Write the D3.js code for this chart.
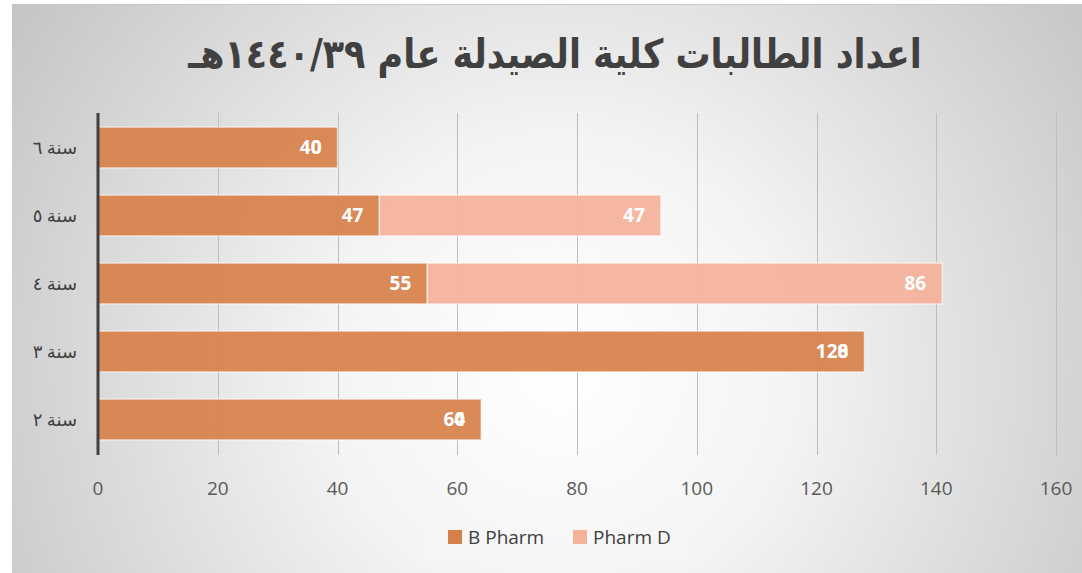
<!DOCTYPE html>
<html>
<head>
<meta charset="utf-8">
<script src="https://cdn.jsdelivr.net/npm/d3@7"></script>
<style>
  body { margin: 0; background: #fff; }
  svg { display: block; }
</style>
</head>
<body>
<div id="chart"></div>
<script>
// chart data
var titleText = "اعداد الطالبات كلية الصيدلة عام ١٤٤٠/٣٩هـ";
var categories = ["سنة ٦", "سنة ٥", "سنة ٤", "سنة ٣", "سنة ٢"];
var seriesNames = ["B Pharm", "Pharm D"];
var bPharm = [40, 47, 55, 128, 64];
var pharmD = [0, 47, 86, 0, 0];
var xTicks = [0, 20, 40, 60, 80, 100, 120, 140, 160];

var colors = ["#d6814a", "#f4b29b"];

var width = 1082, height = 573;

var svg = d3.select("#chart").append("svg")
  .attr("width", width)
  .attr("height", height);

// background
var defs = svg.append("defs");
var grad = defs.append("radialGradient")
  .attr("id", "bg")
  .attr("gradientUnits", "userSpaceOnUse")
  .attr("cx", 560).attr("cy", 370).attr("r", 660);
grad.append("stop").attr("offset", "0%").attr("stop-color", "#ffffff");
grad.append("stop").attr("offset", "35%").attr("stop-color", "#f4f4f4");
grad.append("stop").attr("offset", "100%").attr("stop-color", "#c4c4c4");

svg.append("rect")
  .attr("x", 12).attr("y", 4)
  .attr("width", width - 12).attr("height", height - 4)
  .attr("fill", "url(#bg)");
svg.append("line")
  .attr("x1", 12).attr("x2", width)
  .attr("y1", 4.5).attr("y2", 4.5)
  .attr("stroke", "#c8c8c8");

// title
svg.append("text")
  .attr("transform", "translate(555,68) scale(1,1.15)")
  .attr("text-anchor", "middle")
  .attr("direction", "rtl")
  .style("font-family", "'DejaVu Sans', sans-serif")
  .style("font-weight", "bold")
  .style("font-size", "35px")
  .attr("fill", "#404040")
  .text(titleText);

// scales
var x = d3.scaleLinear().domain([0, 160]).range([98, 1056]);
var y = d3.scaleBand().domain(categories).range([113.5, 453.5]).paddingInner(0.4).paddingOuter(0.2);

// gridlines
svg.append("g")
  .selectAll("line")
  .data(xTicks.slice(1))
  .enter().append("line")
  .attr("x1", function(d) { return Math.round(x(d)) + 0.5; })
  .attr("x2", function(d) { return Math.round(x(d)) + 0.5; })
  .attr("y1", 113).attr("y2", 455)
  .attr("stroke", "#bdbdbd")
  .attr("stroke-width", 1);

// stacked bars
var rows = categories.map(function(c, i) {
  return { cat: c, segs: [
    { s: 0, x0: 0, x1: bPharm[i], v: bPharm[i] },
    { s: 1, x0: bPharm[i], x1: bPharm[i] + pharmD[i], v: pharmD[i] }
  ]};
});

var rowG = svg.append("g").selectAll("g")
  .data(rows)
  .enter().append("g")
  .attr("transform", function(d) { return "translate(0," + y(d.cat) + ")"; });

rowG.selectAll("rect")
  .data(function(d) { return d.segs.filter(function(s) { return s.v > 0; }); })
  .enter().append("rect")
  .attr("x", function(d) { return x(d.x0); })
  .attr("width", function(d) { return x(d.x1) - x(d.x0); })
  .attr("y", 0)
  .attr("height", y.bandwidth())
  .attr("fill", function(d) { return colors[d.s]; })
  .attr("fill-opacity", 0.93)
  .attr("stroke", "#ffffff")
  .attr("stroke-opacity", 0.55)
  .attr("stroke-width", 1.5);

// data labels (inside end, zero segments too)
rowG.selectAll("text")
  .data(function(d) { return d.segs; })
  .enter().append("text")
  .attr("x", function(d) { return x(d.x1) - 16; })
  .attr("y", y.bandwidth() / 2)
  .attr("dy", "0.36em")
  .attr("text-anchor", "end")
  .style("font-family", "'Open Sans', sans-serif")
  .style("font-weight", "bold")
  .style("font-size", "19px")
  .attr("fill", "#ffffff")
  .text(function(d) { return d.v; });

// axis line at zero
svg.append("line")
  .attr("x1", x(0)).attr("x2", x(0))
  .attr("y1", 113).attr("y2", 455)
  .attr("stroke", "#404040")
  .attr("stroke-width", 3);

// category labels
svg.append("g")
  .selectAll("text")
  .data(categories)
  .enter().append("text")
  .attr("x", 77)
  .attr("y", function(d) { return y(d) + y.bandwidth() / 2; })
  .attr("dy", "0.35em")
  .attr("direction", "rtl")
  .attr("text-anchor", "start")
  .style("font-family", "'Liberation Serif', 'DejaVu Sans', serif")
  .style("font-size", "18px")
  .attr("fill", "#404040")
  .text(function(d) { return d; });

// x tick labels
svg.append("g")
  .selectAll("text")
  .data(xTicks)
  .enter().append("text")
  .attr("x", function(d) { return x(d); })
  .attr("y", 488)
  .attr("dy", "0.35em")
  .attr("text-anchor", "middle")
  .style("font-family", "'Open Sans', sans-serif")
  .style("font-size", "19px")
  .attr("fill", "#595959")
  .text(function(d) { return d; });

// legend
var legend = svg.append("g");
legend.append("rect")
  .attr("x", 426).attr("y", 514)
  .attr("width", 263).attr("height", 46)
  .attr("fill", "#f7f7f7")
  .attr("fill-opacity", 0.6);

var legendX = [448, 573];
var item = legend.selectAll("g")
  .data(seriesNames)
  .enter().append("g")
  .attr("transform", function(d, i) { return "translate(" + legendX[i] + ",530)"; });
item.append("rect")
  .attr("width", 14).attr("height", 14)
  .attr("fill", function(d, i) { return colors[i]; });
item.append("text")
  .attr("x", 20).attr("y", 7)
  .attr("dy", "0.35em")
  .style("font-family", "'Open Sans', sans-serif")
  .style("font-size", "19px")
  .attr("fill", "#404040")
  .text(function(d) { return d; });
</script>
</body>
</html>
